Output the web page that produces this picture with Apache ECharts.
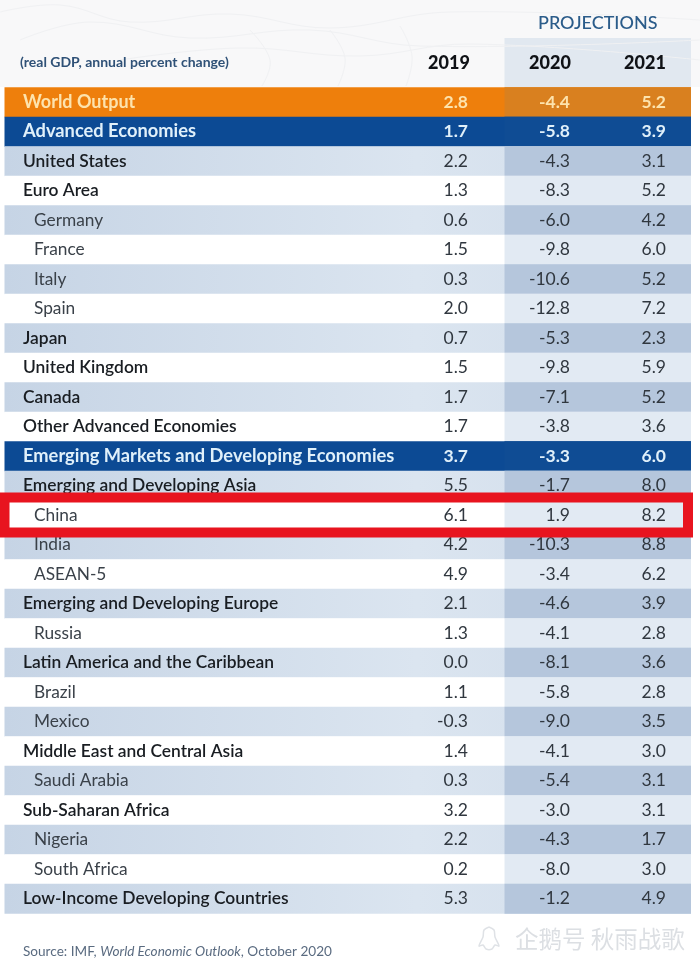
<!DOCTYPE html>
<html>
<head>
<meta charset="utf-8">
<style>html,body{margin:0;padding:0;background:#fff}#main{width:700px;height:964px}</style>
<script src="https://cdn.jsdelivr.net/npm/echarts@6/dist/echarts.min.js"></script>
</head>
<body>
<div id="main"></div>
<script>
var years = ['2019', '2020', '2021'];
var countries = ['World Output', 'Advanced Economies', 'United States', 'Euro Area', 'Germany', 'France', 'Italy', 'Spain', 'Japan', 'United Kingdom', 'Canada', 'Other Advanced Economies', 'Emerging Markets and Developing Economies', 'Emerging and Developing Asia', 'China', 'India', 'ASEAN-5', 'Emerging and Developing Europe', 'Russia', 'Latin America and the Caribbean', 'Brazil', 'Mexico', 'Middle East and Central Asia', 'Saudi Arabia', 'Sub-Saharan Africa', 'Nigeria', 'South Africa', 'Low-Income Developing Countries'];
var values2019 = [2.8, 1.7, 2.2, 1.3, 0.6, 1.5, 0.3, 2.0, 0.7, 1.5, 1.7, 1.7, 3.7, 5.5, 6.1, 4.2, 4.9, 2.1, 1.3, 0.0, 1.1, -0.3, 1.4, 0.3, 3.2, 2.2, 0.2, 5.3];
var values2020 = [-4.4, -5.8, -4.3, -8.3, -6.0, -9.8, -10.6, -12.8, -5.3, -9.8, -7.1, -3.8, -3.3, -1.7, 1.9, -10.3, -3.4, -4.6, -4.1, -8.1, -5.8, -9.0, -4.1, -5.4, -3.0, -4.3, -8.0, -1.2];
var values2021 = [5.2, 3.9, 3.1, 5.2, 4.2, 6.0, 5.2, 7.2, 2.3, 5.9, 5.2, 3.6, 6.0, 8.0, 8.2, 8.8, 6.2, 3.9, 2.8, 3.6, 2.8, 3.5, 3.0, 3.1, 3.1, 1.7, 3.0, 4.9];
var allValues = [values2019, values2020, values2021];

// row groups
var orangeRows = ['World Output'];
var blueRows = ['Advanced Economies', 'Emerging Markets and Developing Economies'];
var subRows = ['Germany', 'France', 'Italy', 'Spain', 'China', 'India', 'ASEAN-5', 'Russia', 'Brazil', 'Mexico', 'Saudi Arabia', 'Nigeria', 'South Africa'];
var markedRow = 'China';

var FONT = 'Lato';
var rowLeft = 4.5, rowRight = 691, bandLeft = 504.5;
var yearCentre = [449, 550, 645];
var numRight = [468, 570, 666];

function isShaded(i) {
	// stripes change parity after the second blue row
	return i < 12 ? i % 2 === 0 : i % 2 === 1;
}

function rowBands(params, api) {
	var i = api.value(0);
	var name = countries[i];
	var h = api.size([0, 1])[1];
	var top = api.coord([0, i])[1] - h / 2;
	var fill = '#ffffff', bandFill = 'rgba(186,204,226,0.42)';
	if (orangeRows.indexOf(name) >= 0) {
		fill = '#ee7f0c';
		bandFill = '#d9801f';
	} else if (blueRows.indexOf(name) >= 0) {
		fill = '#0c4a94';
		bandFill = '#0f4c94';
	} else if (isShaded(i)) {
		fill = new echarts.graphic.LinearGradient(0, 0, 1, 0, [
			{ offset: 0, color: '#c6d4e5' },
			{ offset: 0.6, color: '#dbe5f0' },
			{ offset: 1, color: '#d0dcea' }
		]);
		bandFill = '#b5c6dc';
	}
	return {
		type: 'group',
		children: [
			{ type: 'rect', shape: { x: rowLeft, y: top, width: rowRight - rowLeft, height: h + 0.5 }, style: { fill: fill } },
			{ type: 'rect', shape: { x: bandLeft, y: top, width: rowRight - bandLeft, height: h + 0.5 }, style: { fill: bandFill } }
		]
	};
}

function cellText(params, api) {
	var i = api.value(0);
	var name = countries[i];
	var col = api.value(1);
	var p = api.coord([numRight[col], i]);
	var strong = orangeRows.indexOf(name) >= 0 || blueRows.indexOf(name) >= 0;
	return {
		type: 'text',
		style: {
			x: p[0], y: p[1],
			text: api.value(2).toFixed(1),
			align: 'right', verticalAlign: 'middle',
			font: (strong ? '700 ' : '400 ') + '17.5px ' + FONT,
			fill: orangeRows.indexOf(name) >= 0 ? '#fde3ad' : (strong ? '#e0f0fa' : '#30373f')
		}
	};
}

function frameItem(params, api) {
	var i = api.value(0);
	var cy = api.coord([0, i])[1];
	return {
		type: 'rect',
		shape: { x: 4.5, y: cy - 17.5, width: 683.5, height: 35 },
		style: { fill: 'none', stroke: '#e8141f', lineWidth: 10 }
	};
}

function meshLine(points) {
	return { type: 'polyline', z: -1, shape: { points: points, smooth: 0.4 }, style: { fill: 'none', stroke: '#f0f1f3', lineWidth: 1 } };
}

var rowData = countries.map(function (c, i) { return [i]; });
var cellData = [];
allValues.forEach(function (vals, col) {
	vals.forEach(function (v, i) { cellData.push([i, col, v]); });
});

var chart = echarts.init(document.getElementById('main'));
chart.setOption({
	animation: false,
	backgroundColor: '#ffffff',
	textStyle: { fontFamily: FONT },
	grid: { left: 0, right: 0, top: 87.3, height: 826 },
	xAxis: {
		type: 'value', position: 'top', min: 0, max: 700,
		axisLine: { show: false }, axisTick: { show: false }, splitLine: { show: false },
		axisLabel: {
			customValues: yearCentre,
			margin: 15,
			fontFamily: FONT, fontSize: 18, fontWeight: 900, color: '#101216',
			formatter: function (v) { return years[yearCentre.indexOf(v)]; }
		}
	},
	yAxis: {
		type: 'category', inverse: true, data: countries, z: 5,
		axisLine: { show: false }, axisTick: { show: false }, splitLine: { show: false },
		axisLabel: {
			inside: true, margin: 23, align: 'left', interval: 0,
			formatter: function (name) {
				if (orangeRows.indexOf(name) >= 0) return '{orange|' + name + '}';
				if (blueRows.indexOf(name) >= 0) return '{blue|' + name + '}';
				if (subRows.indexOf(name) >= 0) return '{sub|' + name + '}';
				return '{main|' + name + '}';
			},
			rich: {
				orange: { fontFamily: FONT, fontSize: 18, fontWeight: 700, color: '#fde3ad' },
				blue: { fontFamily: FONT, fontSize: 18.3, fontWeight: 700, color: '#e0f0fa' },
				main: { fontFamily: FONT, fontSize: 17.4, fontWeight: 600, color: '#191d22' },
				sub: { fontFamily: FONT, fontSize: 17.3, fontWeight: 400, color: '#3a4149', padding: [0, 0, 0, 11] }
			}
		}
	},
	graphic: [
		{ type: 'rect', z: -3, shape: { x: 0, y: 0, width: 700, height: 87 }, style: { fill: '#f8f8f9' } },
		meshLine([[0, 12], [60, 5], [130, 22], [230, 14], [330, 28], [450, 12], [700, 20]]),
		meshLine([[20, 40], [90, 22], [190, 38], [310, 30], [420, 46], [700, 40]]),
		meshLine([[120, 60], [240, 48], [360, 56], [470, 44], [700, 60]]),
		meshLine([[250, 30], [270, 60], [262, 86]]),
		meshLine([[330, 30], [345, 58], [338, 86]]),
		meshLine([[400, 26], [412, 56], [406, 86]]),
		{ type: 'rect', z: -2, shape: { x: bandLeft, y: 38, width: rowRight - bandLeft, height: 50 }, style: { fill: 'rgba(206,218,234,0.55)' } },
		{ type: 'text', x: 538, y: 14, style: { text: 'PROJECTIONS', font: '500 18px ' + FONT, fill: '#2b5c8a' } },
		{ type: 'text', x: 20, y: 55, style: { text: '(real GDP, annual percent change)', font: '700 14px ' + FONT, fill: '#2f5177' } },
		{
			type: 'text', x: 23, y: 945,
			style: {
				text: '{a|Source: IMF, }{b|World Economic Outlook}{a|, October 2020}',
				rich: {
					a: { font: '400 13.6px ' + FONT, fill: '#5a6b80' },
					b: { font: 'italic 400 13.6px ' + FONT, fill: '#5a6b80' }
				}
			}
		},
		{
			type: 'polyline', x: 478, y: 927,
			shape: { points: [[11, 0], [6, 3], [5, 10], [1, 19], [5, 18], [8, 22], [14, 22], [17, 18], [21, 19], [17, 10], [16, 3], [11, 0]], smooth: 0.3 },
			style: { fill: 'none', stroke: '#dfe2e6', lineWidth: 1.5 }
		},
		{ type: 'text', x: 515, y: 927, style: { text: '企鹅号 秋雨战歌', font: '400 23.5px "Noto Sans CJK SC"', fill: '#dcdfe3' } }
	],
	series: [
		{ type: 'custom', z: 1, clip: false, renderItem: rowBands, data: rowData, encode: { y: 0 } },
		{ type: 'custom', z: 6, clip: false, renderItem: cellText, data: cellData, encode: { y: 0 } },
		{ type: 'custom', z: 10, clip: false, renderItem: frameItem, data: [[countries.indexOf(markedRow)]], encode: { y: 0 } }
	]
});
</script>
</body>
</html>
